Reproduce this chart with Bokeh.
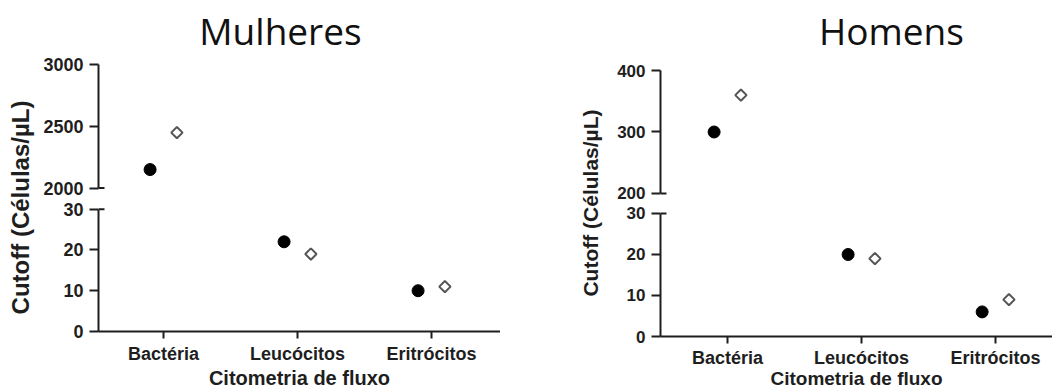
import math
from bokeh.plotting import figure
from bokeh.layouts import row, column
from bokeh.models import ColumnDataSource, Range1d, FixedTicker, Spacer
from bokeh.transform import dodge
from bokeh.core.properties import value
from bokeh.embed import file_html
from bokeh.resources import INLINE

# ---------------- data ----------------
categories = ["Bactéria", "Leucócitos", "Eritrócitos"]
mulheres_circle = [2150, 22, 10]
mulheres_diamond = [2450, 19, 11]
homens_circle = [300, 20, 6]
homens_diamond = [360, 19, 9]
mulheres_upper_ticks = [2000, 2500, 3000]
homens_upper_ticks = [200, 300, 400]
lower_ticks = [0, 10, 20, 30]
x_title = "Citometria de fluxo"
y_title = "Cutoff (Células/µL)"
panel_titles = ["Mulheres", "Homens"]

INK = "#1e1e1e"
AXFONT = "Liberation Sans"


def style_axis(ax, size):
    ax.axis_line_width = 2
    ax.axis_line_color = INK
    ax.major_tick_line_width = 2
    ax.major_tick_line_color = INK
    ax.minor_tick_line_color = None
    ax.major_label_text_font = AXFONT
    ax.major_label_text_font_style = "bold"
    ax.major_label_text_font_size = size
    ax.major_label_text_color = INK


def make_panel(title, circ, diam, upper_ticks, g):
    xs = list(range(len(categories)))
    xr = Range1d(*g["x_range"])
    up_lo = upper_ticks[0]
    lo_hi = lower_ticks[-1]

    # upper segment of the broken axis (frame reaches the top; title lives in it)
    frame_h = g["top_h"] - g["top_border_bottom"]
    y0, y1 = g["top_range"]
    pt = figure(width=g["width"], height=g["top_h"], x_range=xr,
                y_range=Range1d(y0, y1), output_backend="svg",
                toolbar_location=None, x_axis_location=None,
                min_border_left=g["bl"], min_border_right=0,
                min_border_top=0, min_border_bottom=g["top_border_bottom"])
    # lower segment
    pb = figure(width=g["width"], height=g["bot_h"], x_range=xr,
                y_range=Range1d(*g["bot_range"]), output_backend="svg",
                toolbar_location=None,
                min_border_left=g["bl"], min_border_right=0,
                min_border_top=g["bot_border_top"],
                min_border_bottom=g["bot_border_bottom"])

    for p in (pt, pb):
        p.grid.visible = False
        p.outline_line_color = None
        p.background_fill_color = "white"
        p.border_fill_color = "white"

    # panel title, placed at a pixel position inside the upper frame
    px_per_unit = frame_h / (y1 - y0)
    ty = y0 + (frame_h - g["title_mid_px"]) / px_per_unit
    frame_w = g["width"] - g["bl"]
    xpx = (g["x_range"][1] - g["x_range"][0]) / frame_w
    tx = g["x_range"][0] + g["title_center_px"] * xpx
    pt.text(x=[tx], y=[ty], text=[title], text_align="center",
            text_baseline="middle", text_font=value("Open Sans"),
            text_font_size=value("37px"), text_color="#111111")

    # y axes
    for p, ticks in ((pt, upper_ticks), (pb, lower_ticks)):
        style_axis(p.yaxis[0], g["ytick_size"])
        p.yaxis.ticker = FixedTicker(ticks=ticks)
        p.yaxis.bounds = (ticks[0], ticks[-1])
        p.yaxis.major_tick_in = 0
        p.yaxis.major_tick_out = 9
        p.yaxis.major_label_standoff = 6

    # x axis
    style_axis(pb.xaxis[0], "18px")
    pb.xaxis.ticker = FixedTicker(ticks=xs)
    pb.xaxis.major_label_overrides = {i: c for i, c in zip(xs, categories)}
    pb.xaxis.major_tick_in = 0
    pb.xaxis.major_tick_out = 7
    pb.xaxis.major_label_standoff = g["lab_standoff"]
    pb.xaxis.axis_label = x_title
    pb.xaxis.axis_label_text_font = AXFONT
    pb.xaxis.axis_label_text_font_style = "bold"
    pb.xaxis.axis_label_text_font_size = g["xlabel_size"]
    pb.xaxis.axis_label_text_color = INK
    pb.xaxis.axis_label_standoff = g["axlab_standoff"]

    # axis-break marks
    x0 = g["x_range"][0]
    pt.segment(x0=[x0], x1=[x0 + 6 * xpx], y0=[up_lo], y1=[up_lo],
               line_color=INK, line_width=2)
    pb.segment(x0=[x0], x1=[x0 + 6 * xpx], y0=[lo_hi], y1=[lo_hi],
               line_color=INK, line_width=2)

    def src(vals, keep):
        pts = [(x, v) for x, v in zip(xs, vals) if keep(v)]
        return ColumnDataSource(dict(x=[a for a, _ in pts], y=[b for _, b in pts]))

    for p, keep in ((pt, lambda v: v >= up_lo), (pb, lambda v: v <= lo_hi)):
        sc = src(circ, keep)
        sd = src(diam, keep)
        p.scatter(x=dodge("x", -0.1, range=xr), y="y", source=sc,
                  marker="circle", size=12, fill_color="black",
                  line_color="black", line_width=1)
        p.scatter(x=dodge("x", 0.1, range=xr), y="y", source=sd,
                  marker="square", angle=math.pi / 4, size=8,
                  fill_color="white", line_color="#555555", line_width=2)

    return column(pt, pb, spacing=0)


def ylabel_fig(text, size, y_center):
    f = figure(width=40, height=392, x_range=Range1d(0, 1),
               y_range=Range1d(0, 392), output_backend="svg",
               toolbar_location=None, min_border=0,
               x_axis_location=None, y_axis_location=None)
    f.outline_line_color = None
    f.grid.visible = False
    f.text(x=[0.5], y=[y_center], text=[text], angle=math.pi / 2,
           text_align="center", text_baseline="middle",
           text_font=value(AXFONT), text_font_style="bold",
           text_font_size=value(size), text_color=INK)
    return f


gL = dict(width=460, bl=58, top_h=198, top_border_bottom=8,
          top_range=(1980, 3523.5), bot_h=194, bot_border_top=7,
          bot_border_bottom=61, bot_range=(0, 30.9), x_range=(-0.485, 2.515),
          title_center_px=182, title_mid_px=30, lab_standoff=5,
          axlab_standoff=0, xlabel_size="20px", ytick_size="18px")
gR = dict(width=442, bl=50, top_h=203, top_border_bottom=7,
          top_range=(195, 514), bot_h=189, bot_border_top=7,
          bot_border_bottom=56, bot_range=(0, 30.73), x_range=(-0.5, 2.425),
          title_center_px=231, title_mid_px=30, lab_standoff=4,
          axlab_standoff=-3, xlabel_size="19px", ytick_size="17px")

left = make_panel(panel_titles[0], mulheres_circle, mulheres_diamond,
                  mulheres_upper_ticks, gL)
right = make_panel(panel_titles[1], homens_circle, homens_diamond,
                   homens_upper_ticks, gR)

layout = row(ylabel_fig(y_title, "24px", 185), left, Spacer(width=70, height=392),
             ylabel_fig(y_title, "21px", 189.5), right, spacing=0)

open("out.html", "w").write(file_html(layout, INLINE))
